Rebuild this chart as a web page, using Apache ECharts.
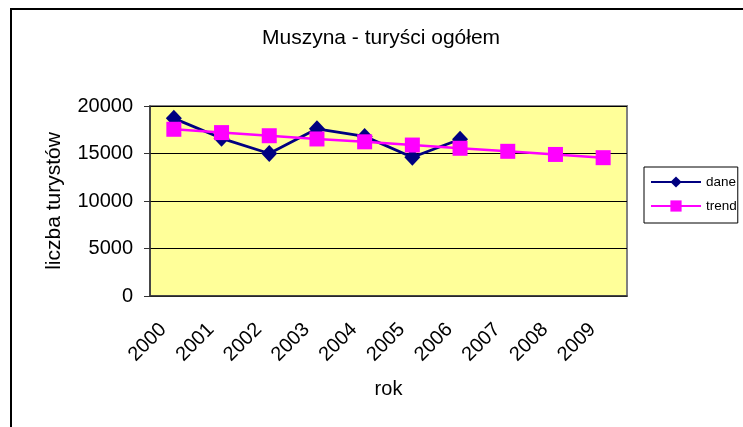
<!DOCTYPE html>
<html>
<head>
<meta charset="utf-8">
<script src="https://cdn.jsdelivr.net/npm/echarts@6/dist/echarts.min.js"></script>
<style>
    html, body { margin: 0; padding: 0; background: #fff; }
    #wrap { position: relative; width: 743px; height: 427px; overflow: hidden; }
    #chart { position: absolute; left: 0; top: 0; width: 743px; height: 427px; }
    #frame {
        position: absolute; left: 10px; top: 8px; width: 800px; height: 500px;
        border-top: 2px solid #000; border-left: 2px solid #000;
        pointer-events: none;
    }
</style>
</head>
<body>
<div id="wrap">
    <div id="chart"></div>
    <div id="frame"></div>
</div>
<script>
const years = ['2000', '2001', '2002', '2003', '2004', '2005', '2006', '2007', '2008', '2009'];
const dane = [18700, 16600, 15000, 17600, 16800, 14600, 16500];
const trend = [17550, 17200, 16870, 16530, 16230, 15890, 15550, 15230, 14900, 14560];

let myChart = null;

function initChart() {
    myChart = echarts.init(document.getElementById('chart'));
    const font = 'Liberation Sans, Arial, sans-serif';
    const option = {
        animation: false,
        textStyle: { fontFamily: font },
        title: {
            text: 'Muszyna - turyści ogółem',
            left: 257,
            top: 23,
            textStyle: { fontSize: 21, fontWeight: 'normal', color: '#000', fontFamily: font }
        },
        legend: {
            orient: 'vertical',
            left: 644,
            top: 167,
            padding: [8, 1, 10, 6],
            itemGap: 10,
            itemWidth: 50,
            itemHeight: 14,
            borderColor: '#000',
            borderWidth: 1,
            textStyle: { fontSize: 13.5, color: '#000', fontFamily: font },
            data: ['dane', 'trend']
        },
        grid: {
            left: 150,
            right: 116,
            top: 106,
            bottom: 131,
            show: true,
            backgroundColor: '#FFFF99',
            borderColor: '#808080',
            borderWidth: 2
        },
        xAxis: {
            type: 'category',
            data: years,
            boundaryGap: true,
            name: 'rok',
            nameLocation: 'middle',
            nameGap: 83,
            nameTextStyle: { fontSize: 20, color: '#000' },
            axisLine: { lineStyle: { color: '#333', width: 1.5 } },
            axisTick: { alignWithLabel: false, length: 6, lineStyle: { color: '#333' } },
            axisLabel: {
                rotate: 45, fontSize: 20, color: '#000', margin: 20, interval: 0,
                padding: [0, 15, 0, 0]
            }
        },
        yAxis: {
            type: 'value',
            min: 0,
            max: 20000,
            interval: 5000,
            name: 'liczba turystów',
            nameLocation: 'middle',
            nameGap: 85,
            nameTextStyle: { fontSize: 21, color: '#000' },
            axisLine: { show: true, lineStyle: { color: '#333', width: 1.5 } },
            axisTick: { show: true, length: 6, lineStyle: { color: '#333' } },
            axisLabel: { fontSize: 20, color: '#000', margin: 17, formatter: v => String(v) },
            splitLine: { lineStyle: { color: '#000', width: 1 } }
        },
        series: [
            {
                name: 'dane',
                type: 'line',
                data: dane,
                symbol: 'diamond',
                symbolSize: [16, 17],
                z: 3,
                itemStyle: { color: '#000080' },
                lineStyle: { color: '#000080', width: 2.8 }
            },
            {
                name: 'trend',
                type: 'line',
                data: trend,
                symbol: 'rect',
                symbolSize: 15,
                z: 4,
                itemStyle: { color: '#FF00FF' },
                lineStyle: { color: '#FF00FF', width: 2.5 }
            }
        ]
    };
    myChart.setOption(option);
}

window.addEventListener('resize', () => {
    if (myChart) myChart.resize();
});

window.onload = initChart;
</script>
</body>
</html>
